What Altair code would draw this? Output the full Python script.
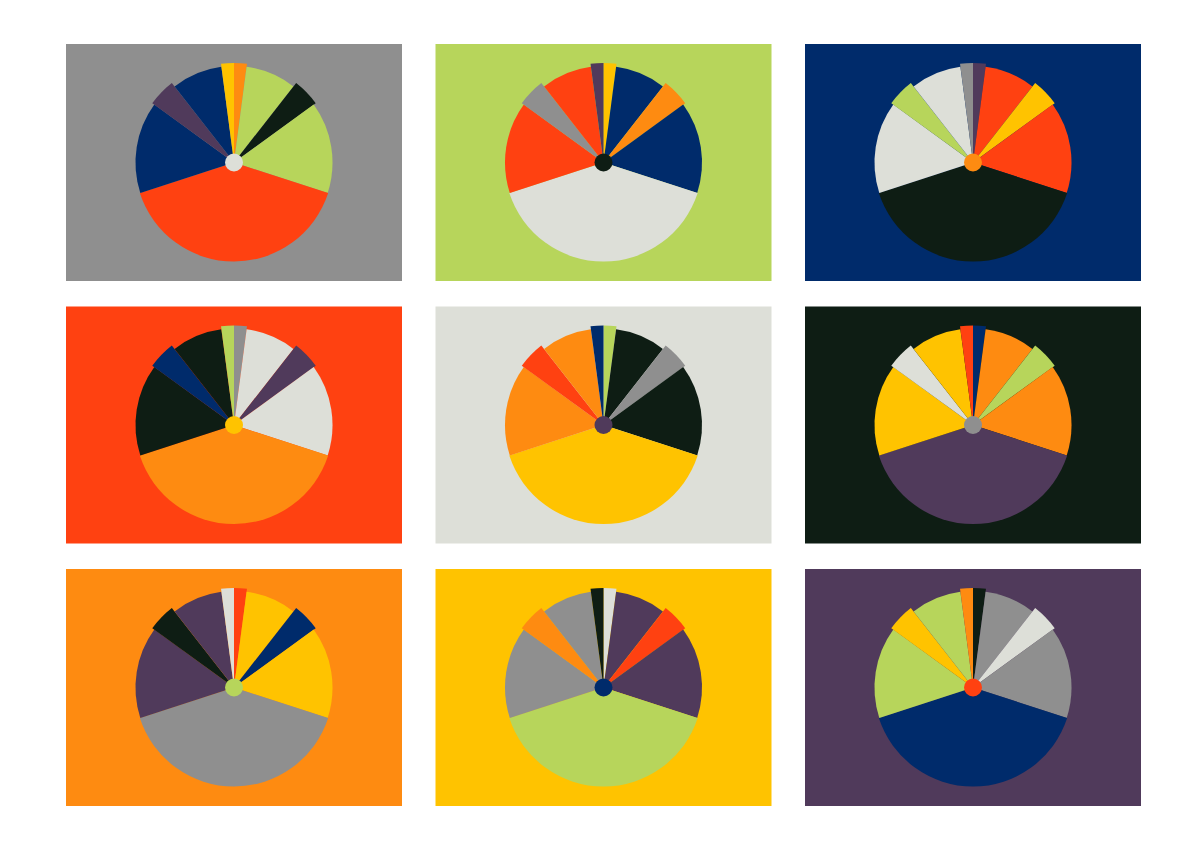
import altair as alt
import pandas as pd

# Palette
GRAY = "#8f8f8f"
GREEN = "#b7d55b"
NAVY = "#002b6b"
RED = "#ff4111"
LIGHT = "#dddfd8"
DARK = "#0e1d14"
ORANGE = "#fe8b11"
YELLOW = "#ffc300"
PURPLE = "#503a5b"

# Slice structure (clockwise from 12 o'clock): roles, angular share (deg), radius
slice_roles = ["A", "B", "C", "B", "D", "E", "F", "E", "G"]
slice_angles = [7.5, 30.5, 16, 54, 144, 54, 16, 30.5, 7.5]
slice_radii = [99.5, 96.5, 101, 98.5, 99, 98.5, 101, 96.5, 99.5]
dot_radius = 9

# Per-panel colours
panel_bg = [GRAY, GREEN, NAVY, RED, LIGHT, DARK, ORANGE, YELLOW, PURPLE]
panel_dot = [LIGHT, DARK, ORANGE, YELLOW, PURPLE, GRAY, GREEN, NAVY, RED]
panel_A = [ORANGE, YELLOW, PURPLE, GRAY, GREEN, NAVY, RED, LIGHT, DARK]
panel_B = [GREEN, NAVY, RED, LIGHT, DARK, ORANGE, YELLOW, PURPLE, GRAY]
panel_C = [DARK, ORANGE, YELLOW, PURPLE, GRAY, GREEN, NAVY, RED, LIGHT]
panel_D = [RED, LIGHT, DARK, ORANGE, YELLOW, PURPLE, GRAY, GREEN, NAVY]
panel_E = [NAVY, RED, LIGHT, DARK, ORANGE, YELLOW, PURPLE, GRAY, GREEN]
panel_F = [PURPLE, GRAY, GREEN, NAVY, RED, LIGHT, DARK, ORANGE, YELLOW]
panel_G = [YELLOW, PURPLE, GRAY, GREEN, NAVY, RED, LIGHT, DARK, ORANGE]

W, H = 336, 237

panels = []
for p in range(9):
    role_color = {
        "A": panel_A[p], "B": panel_B[p], "C": panel_C[p], "D": panel_D[p],
        "E": panel_E[p], "F": panel_F[p], "G": panel_G[p],
    }
    df = pd.DataFrame({
        "i": list(range(len(slice_roles))),
        "v": slice_angles,
        "r": slice_radii,
        "c": [role_color[k] for k in slice_roles],
    })
    dot = pd.DataFrame({"r": [dot_radius], "c": [panel_dot[p]]})

    pie = alt.Chart(df).transform_calculate(
        rad="datum.v * PI / 180"
    ).transform_window(
        t2="sum(rad)", sort=[alt.SortField("i")], frame=[None, 0]
    ).transform_calculate(
        t1="datum.t2 - datum.rad"
    ).mark_arc().encode(
        theta=alt.Theta("t1:Q", scale=None),
        theta2="t2:Q",
        radius=alt.Radius("r:Q", scale=None),
        color=alt.Color("c:N", scale=None),
    )
    center = alt.Chart(dot).mark_arc().encode(
        theta=alt.value(0),
        theta2=alt.value(6.2832),
        radius=alt.Radius("r:Q", scale=None),
        color=alt.Color("c:N", scale=None),
    )
    panel = alt.layer(pie, center).properties(
        width=W, height=H,
        view=alt.ViewBackground(fill=panel_bg[p], strokeWidth=0),
    )
    panels.append(panel)

chart = alt.concat(
    *panels, columns=3,
    spacing=alt.RowColnumber(row=25.5, column=33.5),
).properties(
    padding={"left": 58, "top": 36, "right": 0, "bottom": 0},
    background="white",
).configure_view(strokeWidth=0)

chart.save("out.html", embed_options={"renderer": "svg", "actions": False})
